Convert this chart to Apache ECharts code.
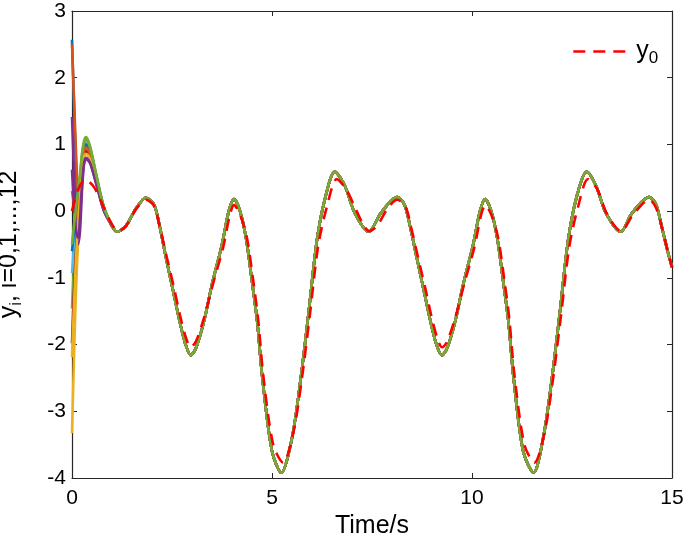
<!DOCTYPE html>
<html>
<head>
<meta charset="utf-8">
<script src="https://cdn.jsdelivr.net/npm/echarts@6/dist/echarts.min.js"></script>
<style>
  html, body { margin: 0; padding: 0; background: #fff; }
  #chart { width: 685px; height: 539px; }
</style>
</head>
<body>
<div id="chart"></div>
<script>
// reference signal y0 (red dashed)
const tRef = [0, 0.15, 0.33, 0.55, 0.8, 1.0, 1.15, 1.35, 1.6, 1.85, 2.05, 2.2, 2.37, 2.55, 2.7, 2.85, 2.97, 3.1, 3.3, 3.53,
  3.78, 3.95, 4.05, 4.2, 4.37, 4.53, 4.65, 4.78, 5.03, 5.28, 5.53, 5.74, 5.95, 6.15, 6.37, 6.62, 6.85, 7.08, 7.28, 7.43,
  7.63, 7.88, 8.13, 8.33, 8.48, 8.65, 8.83, 8.98, 9.13, 9.25, 9.38, 9.58, 9.81, 10.06, 10.23, 10.33, 10.48, 10.65, 10.81, 10.93,
  11.06, 11.31, 11.56, 11.81, 12.02, 12.23, 12.43, 12.65, 12.9, 13.13, 13.38, 13.73, 14.03, 14.43, 14.6, 14.75, 14.9, 15.0]
const yRef = [0, 0.32, 0.47, 0.36, 0.05, -0.2, -0.3, -0.22, 0.03, 0.17, 0.08, -0.25, -0.69, -1.15, -1.56, -1.9, -2.04, -1.95, -1.6, -1.08,
  -0.54, -0.05, 0.09, -0.05, -0.39, -1.04, -1.6, -2.45, -3.5, -3.77, -3.33, -2.54, -1.54, -0.54, 0.06, 0.48, 0.33, 0.05, -0.2, -0.3,
  -0.22, 0.03, 0.17, 0.08, -0.25, -0.69, -1.15, -1.56, -1.9, -2.04, -1.95, -1.6, -1.08, -0.54, -0.05, 0.09, -0.05, -0.39, -1.04, -1.6,
  -2.45, -3.5, -3.77, -3.33, -2.54, -1.54, -0.54, 0.06, 0.48, 0.33, -0.05, -0.3, -0.05, 0.17, 0.05, -0.25, -0.62, -0.84]

// common track of the followers after the transient
const tAgent = [1.12, 1.35, 1.6, 1.85, 2.05, 2.2, 2.35, 2.53, 2.68, 2.83, 2.97, 3.1, 3.3, 3.5, 3.75, 3.92, 4.05, 4.2, 4.35, 4.5,
  4.63, 4.76, 5.0, 5.23, 5.5, 5.71, 5.92, 6.12, 6.33, 6.57, 6.82, 7.07, 7.42, 7.72, 8.13, 8.31, 8.46, 8.62, 8.8, 8.95,
  9.1, 9.25, 9.38, 9.58, 9.78, 10.03, 10.2, 10.33, 10.48, 10.63, 10.78, 10.91, 11.04, 11.28, 11.54, 11.78, 11.99, 12.2, 12.4, 12.61,
  12.87, 13.1, 13.35, 13.72, 14.0, 14.43, 14.6, 14.75, 14.9, 15.0]
const yAgent = [-0.31, -0.22, 0.04, 0.2, 0.1, -0.25, -0.7, -1.2, -1.62, -1.98, -2.16, -2.05, -1.65, -1.1, -0.5, 0.0, 0.18, 0.0, -0.4, -1.05,
  -1.65, -2.5, -3.6, -3.92, -3.4, -2.55, -1.5, -0.45, 0.2, 0.59, 0.38, -0.03, -0.31, -0.03, 0.21, 0.1, -0.25, -0.7, -1.2, -1.62,
  -1.98, -2.16, -2.05, -1.65, -1.1, -0.5, 0.0, 0.18, 0.0, -0.4, -1.05, -1.65, -2.5, -3.6, -3.92, -3.4, -2.55, -1.5, -0.45, 0.2,
  0.59, 0.38, -0.03, -0.31, -0.03, 0.21, 0.1, -0.25, -0.62, -0.84]

// early transient of each follower i=1..12
const tStart = [0, 0.05, 0.1, 0.15, 0.2, 0.25, 0.3, 0.35, 0.45, 0.6, 0.8, 1.0]
const yStart = [
  [2.57, 1.6, 0.7, 0.1, 0.2, 0.6, 0.95, 1.08, 0.95, 0.55, 0.05, -0.22],
  [2.5, 1.7, 0.9, 0.3, 0.25, 0.55, 0.9, 1.02, 0.9, 0.52, 0.03, -0.23],
  [-3.33, -2.2, -1.2, -0.5, 0.0, 0.5, 0.8, 0.88, 0.8, 0.45, 0.02, -0.22],
  [1.41, 0.6, -0.1, -0.5, -0.3, 0.3, 0.7, 0.78, 0.72, 0.42, 0.0, -0.22],
  [-1.46, -0.8, -0.3, 0.1, 0.5, 0.85, 1.05, 1.11, 0.98, 0.57, 0.06, -0.21],
  [-0.93, -0.5, -0.1, 0.2, 0.45, 0.8, 1.0, 1.05, 0.93, 0.54, 0.05, -0.22],
  [-1.98, -1.2, -0.6, -0.1, 0.3, 0.65, 0.85, 0.9, 0.82, 0.48, 0.03, -0.22],
  [-0.6, -0.3, 0.0, 0.25, 0.45, 0.75, 0.95, 1.0, 0.9, 0.52, 0.04, -0.22],
  [0.3, 0.1, -0.1, 0.0, 0.3, 0.7, 0.9, 0.95, 0.86, 0.5, 0.03, -0.22],
  [-2.19, -1.4, -0.7, -0.2, 0.2, 0.6, 0.82, 0.86, 0.78, 0.46, 0.02, -0.22],
  [0.62, 0.1, -0.3, -0.4, -0.1, 0.4, 0.72, 0.8, 0.73, 0.43, 0.0, -0.22],
  [-0.5, -0.2, 0.05, 0.3, 0.55, 0.85, 1.02, 1.07, 0.95, 0.55, 0.05, -0.21]
]
const agentColors = ['#0072BD', '#D95319', '#EDB120', '#7E2F8E', '#77AC30', '#4DBEEE', '#A2142F',
  '#0072BD', '#D95319', '#EDB120', '#7E2F8E', '#77AC30']

const xTicks = [0, 5, 10, 15]
const yTicks = [-4, -3, -2, -1, 0, 1, 2, 3]

const font = '"Liberation Sans", Arial, Helvetica, sans-serif'
const axisColor = '#262626'

const zip = (ts, ys) => ts.map((t, i) => [t, ys[i]])

const series = []
for (let i = 0; i < yStart.length; i++) {
  series.push({
    name: 'y' + (i + 1),
    type: 'line',
    symbol: 'none',
    smooth: 0.3,
    z: 2,
    lineStyle: { color: agentColors[i], width: 2.6 },
    data: zip(tStart, yStart[i]).concat(zip(tAgent, yAgent))
  })
}
series.push({
  name: 'y0',
  type: 'line',
  symbol: 'none',
  smooth: 0.3,
  z: 5,
  itemStyle: { color: '#FF0000' },
  lineStyle: { color: '#FF0000', width: 2.6, type: [12, 8] },
  data: zip(tRef, yRef)
})

const subRich = {
  n: { fontSize: 25, color: '#000', fontFamily: font },
  s: { fontSize: 17, color: '#000', fontFamily: font, padding: [14, 0, 0, 0] }
}

const chart = echarts.init(document.getElementById('chart'))
const axisBase = {
  axisLine: { show: true, onZero: false, lineStyle: { color: axisColor, width: 1.2 } },
  axisTick: { show: true, inside: true, length: 5, lineStyle: { color: axisColor } },
  splitLine: { show: false }
}
chart.setOption({
  animation: false,
  textStyle: { fontFamily: font },
  grid: { left: 72, right: 13, top: 11, bottom: 61, containLabel: false, outerBoundsMode: 'none' },
  legend: {
    data: ['y0'],
    left: 567,
    top: 34,
    itemWidth: 58,
    itemHeight: 14,
    itemGap: 8,
    itemStyle: { opacity: 0 },
    lineStyle: { width: 2.6, type: [12, 8] },
    formatter: () => '{n|y}{s|0}',
    textStyle: { rich: subRich }
  },
  xAxis: [
    Object.assign({}, axisBase, {
      type: 'value', min: 0, max: 15, interval: 5, position: 'bottom',
      name: 'Time/s', nameLocation: 'middle', nameGap: 30,
      nameTextStyle: { fontSize: 25, color: '#000', fontFamily: font },
      axisLabel: { fontSize: 21, color: '#000', margin: 10, fontFamily: font, customValues: xTicks },
      axisTick: { show: true, inside: true, length: 5, lineStyle: { color: axisColor }, customValues: xTicks }
    }),
    Object.assign({}, axisBase, {
      type: 'value', min: 0, max: 15, interval: 5, position: 'top',
      axisLabel: { show: false }
    })
  ],
  yAxis: [
    Object.assign({}, axisBase, {
      type: 'value', min: -4, max: 3, interval: 1, position: 'left',
      name: '{n|y}{s|i}{n|, i=0,1,...,12}', nameLocation: 'middle', nameGap: 47,
      nameTextStyle: { rich: subRich },
      axisLabel: { fontSize: 21, color: '#000', margin: 6, fontFamily: font, customValues: yTicks },
      axisTick: { show: true, inside: true, length: 5, lineStyle: { color: axisColor }, customValues: yTicks }
    }),
    Object.assign({}, axisBase, {
      type: 'value', min: -4, max: 3, interval: 1, position: 'right',
      axisLabel: { show: false }
    })
  ],
  series: series
})
</script>
</body>
</html>
